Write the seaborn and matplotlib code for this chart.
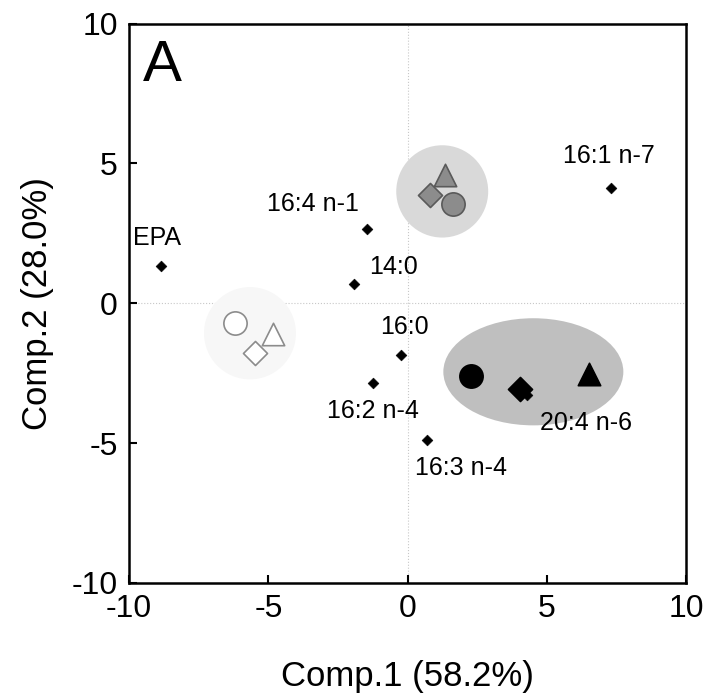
import numpy as np
import pandas as pd
import matplotlib
matplotlib.use('Agg')
import matplotlib.pyplot as plt
from matplotlib.patches import Ellipse
import seaborn as sns

# fatty acid loadings
fa_names = ['EPA', '16:4 n-1', '14:0', '16:1 n-7', '16:0', '16:2 n-4', '16:3 n-4', '20:4 n-6']
fa_x = [-8.85, -1.45, -1.92, 7.31, -0.23, -1.24, 0.70, 4.29]
fa_y = [1.32, 2.65, 0.68, 4.11, -1.86, -2.86, -4.90, -3.29]

# sample scores (three groups, three shapes each)
grp_names = ['white', 'gray', 'black']
grp_shapes = ['circle', 'triangle', 'diamond']
grp_x = {'white': [-6.19, -4.83, -5.48], 'gray': [1.63, 1.35, 0.81], 'black': [2.28, 6.52, 4.04]}
grp_y = {'white': [-0.72, -1.11, -1.79], 'gray': [3.54, 4.60, 3.86], 'black': [-2.61, -2.54, -3.08]}

# shaded group areas: centre x, centre y, width, height
area_cx = [-5.66, 1.24, 4.51]
area_cy = [-1.07, 4.0, -2.45]
area_w = [3.3, 3.3, 6.46]
area_h = [3.3, 3.3, 3.83]

sns.set_style('white')
plt.rcParams['font.family'] = ['Liberation Sans', 'DejaVu Sans']
plt.rcParams['axes.unicode_minus'] = False
plt.rcParams['text.color'] = 'black'
plt.rcParams['axes.labelcolor'] = 'black'
plt.rcParams['xtick.color'] = 'black'
plt.rcParams['ytick.color'] = 'black'

fig = plt.figure(figsize=(7.09, 6.94), dpi=100)
ax = fig.add_axes([0.182, 0.160, 0.786, 0.806])

area_col = ['#f7f7f7', '#d9d9d9', '#bfbfbf']
for i in range(3):
    ax.add_patch(Ellipse((area_cx[i], area_cy[i]), area_w[i], area_h[i],
                         facecolor=area_col[i], edgecolor='none', zorder=1))

ax.axhline(0, color='#c8c8c8', lw=0.8, ls=':', zorder=0.5)
ax.axvline(0, color='#c8c8c8', lw=0.8, ls=':', zorder=0.5)

face = {'white': 'white', 'gray': '#8c8c8c', 'black': 'black'}
edge = {'white': '#8c8c8c', 'gray': '#5a5a5a', 'black': 'black'}
markers = {'circle': 'o', 'triangle': '^', 'diamond': 'D'}
sizes = {'circle': 280, 'triangle': 260, 'diamond': 150}
for g in grp_names:
    df = pd.DataFrame({'x': grp_x[g], 'y': grp_y[g], 'shape': grp_shapes})
    for s in grp_shapes:
        sub = df[df['shape'] == s]
        sns.scatterplot(data=sub, x='x', y='y', marker=markers[s], s=sizes[s],
                        color=face[g], edgecolor=edge[g], linewidth=1.2,
                        ax=ax, zorder=3, legend=False)

fa = pd.DataFrame({'x': fa_x, 'y': fa_y, 'name': fa_names})
sns.scatterplot(data=fa, x='x', y='y', marker='D', s=30, color='black',
                edgecolor='black', ax=ax, zorder=4, legend=False)

# label offsets in data units and alignment
lab_dx = [-0.15, -0.3, 0.55, -0.1, 0.1, 0.0, 1.2, 0.45]
lab_dy = [1.0, 0.9, 0.6, 1.15, 1.0, -1.0, -1.0, -1.0]
lab_ha = ['center', 'right', 'left', 'center', 'center', 'center', 'center', 'left']
for i in range(len(fa_names)):
    ax.text(fa_x[i] + lab_dx[i], fa_y[i] + lab_dy[i], fa_names[i],
            ha=lab_ha[i], va='center', fontsize=18, zorder=5)

ax.text(-9.5, 8.5, 'A', fontsize=42, ha='left', va='center')

ax.set_xlim(-10, 10)
ax.set_ylim(-10, 10)
ax.set_xticks([-10, -5, 0, 5, 10])
ax.set_yticks([-10, -5, 0, 5, 10])
ax.tick_params(direction='in', length=6, width=1.5, labelsize=23, pad=8,
               bottom=True, left=True)
for sp in ax.spines.values():
    sp.set_linewidth(1.8)
    sp.set_color('black')
ax.set_xlabel('Comp.1 (58.2%)', fontsize=25, labelpad=26)
ax.set_ylabel('Comp.2 (28.0%)', fontsize=25, labelpad=13)

fig.savefig('out.png', dpi=100)
